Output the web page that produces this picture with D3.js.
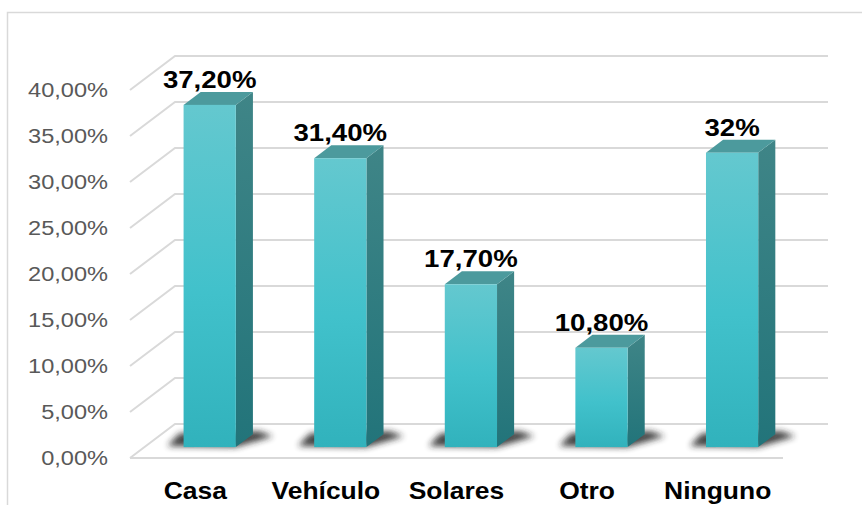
<!DOCTYPE html>
<html>
<head>
<meta charset="utf-8">
<script src="https://cdn.jsdelivr.net/npm/d3@7"></script>
<style>
  body { margin: 0; background: #fff; }
  svg { display: block; font-family: "Liberation Sans", Arial, sans-serif; }
</style>
</head>
<body>
<svg id="chart" width="862" height="505"></svg>
<script>
const categories = ["Casa", "Vehículo", "Solares", "Otro", "Ninguno"];
const values = [37.2, 31.4, 17.7, 10.8, 32];
const valueLabels = ["37,20%", "31,40%", "17,70%", "10,80%", "32%"];
const ticks = [0, 5, 10, 15, 20, 25, 30, 35, 40];
const tickLabels = ["0,00%", "5,00%", "10,00%", "15,00%", "20,00%", "25,00%", "30,00%", "35,00%", "40,00%"];

const svg = d3.select("#chart");
const STRETCH = 1.15;
// depth of the 3d box (front plane -> back wall)
const DX = 45, DY = -34;
const F0 = 0.32, F1 = 0.70;

const x = d3.scaleBand().domain(categories).range([130, 783]).paddingInner(0.6).paddingOuter(0.3);
const y = d3.scaleLinear().domain([0, 40]).range([458, 90]);
const proj = (px, v, f) => [px + f * DX, y(v) + f * DY];

const defs = svg.append("defs");
const gFront = defs.append("linearGradient").attr("id", "gFront").attr("x1", 0).attr("y1", 0).attr("x2", 0).attr("y2", 1);
gFront.append("stop").attr("offset", "0%").attr("stop-color", "#64c8cf");
gFront.append("stop").attr("offset", "55%").attr("stop-color", "#41c1cb");
gFront.append("stop").attr("offset", "100%").attr("stop-color", "#31b2bc");
const gSide = defs.append("linearGradient").attr("id", "gSide").attr("x1", 0).attr("y1", 0).attr("x2", 0).attr("y2", 1);
gSide.append("stop").attr("offset", "0%").attr("stop-color", "#3f8587");
gSide.append("stop").attr("offset", "100%").attr("stop-color", "#22747a");
defs.append("filter").attr("id", "blur").attr("x", "-50%").attr("y", "-50%").attr("width", "200%").attr("height", "200%")
  .append("feGaussianBlur").attr("stdDeviation", 3);

// outer frame
svg.append("rect").attr("x", 7.5).attr("y", 12.5).attr("width", 900).attr("height", 600)
  .attr("fill", "none").attr("stroke", "#d9d9d9").attr("stroke-width", 1.5);

// grid: left wall diagonals + back wall lines
const grid = svg.append("g").attr("stroke", "#d9d9d9").attr("stroke-width", 2).attr("fill", "none");
const x0 = x.range()[0], x1 = x.range()[1];
ticks.forEach(t => {
  const a = proj(x0, t, 0), b = proj(x0, t, 1), c = proj(x1, t, 1);
  grid.append("path").attr("d", d3.line()([a, b, c]));
});
grid.append("path").attr("d", d3.line()([proj(x0, 0, 0), proj(x1, 0, 0)]));

// y tick labels
svg.append("g").selectAll("text").data(ticks).join("text")
  .attr("transform", (d) => `translate(108,${y(d)}) scale(${STRETCH},1)`)
  .attr("dy", "0.36em").attr("text-anchor", "end")
  .attr("font-size", 20.5).attr("fill", "#595959")
  .text((d, i) => tickLabels[i]);

// bars
const bars = svg.append("g").selectAll("g").data(categories).join("g");
bars.each(function (c, i) {
  const g = d3.select(this);
  const v = values[i];
  const left = x(c), right = x(c) + x.bandwidth();
  const fl0 = proj(left, 0, F0), fr0 = proj(right, 0, F0);
  const flt = proj(left, v, F0), frt = proj(right, v, F0);
  const br0 = proj(right, 0, F1), brt = proj(right, v, F1), blt = proj(left, v, F1);
  // floor shadow
  g.append("path").attr("filter", "url(#blur)").attr("fill", "#222").attr("opacity", 0.85)
    .attr("d", d3.line()([[fl0[0] - 16, fl0[1] - 1], [fr0[0], fr0[1]], [br0[0] + 20, br0[1] + 2], [br0[0] + 6, br0[1] - 3], [fl0[0] - 4, br0[1] - 1]]) + "Z");
  g.append("path").attr("fill", "url(#gSide)").attr("d", d3.line()([fr0, frt, brt, br0]) + "Z");
  g.append("path").attr("fill", "#4c9a9d").attr("d", d3.line()([flt, frt, brt, blt]) + "Z");
  g.append("rect").attr("x", left + F0 * DX).attr("y", flt[1]).attr("width", x.bandwidth())
    .attr("height", fl0[1] - flt[1]).attr("fill", "url(#gFront)");
  g.append("text")
    .attr("transform", `translate(${left + F0 * DX + x.bandwidth() / 2},${brt[1] - 4}) scale(${STRETCH},1)`)
    .attr("text-anchor", "middle").attr("font-size", 24).attr("font-weight", "bold").attr("fill", "#000")
    .text(valueLabels[i]);
});

// category labels
svg.append("g").selectAll("text").data(categories).join("text")
  .attr("transform", (d) => `translate(${x(d) + x.bandwidth() / 2},499) scale(${STRETCH},1)`)
  .attr("text-anchor", "middle").attr("font-size", 23).attr("font-weight", "bold").attr("fill", "#000")
  .text((d) => d);
</script>
</body>
</html>
